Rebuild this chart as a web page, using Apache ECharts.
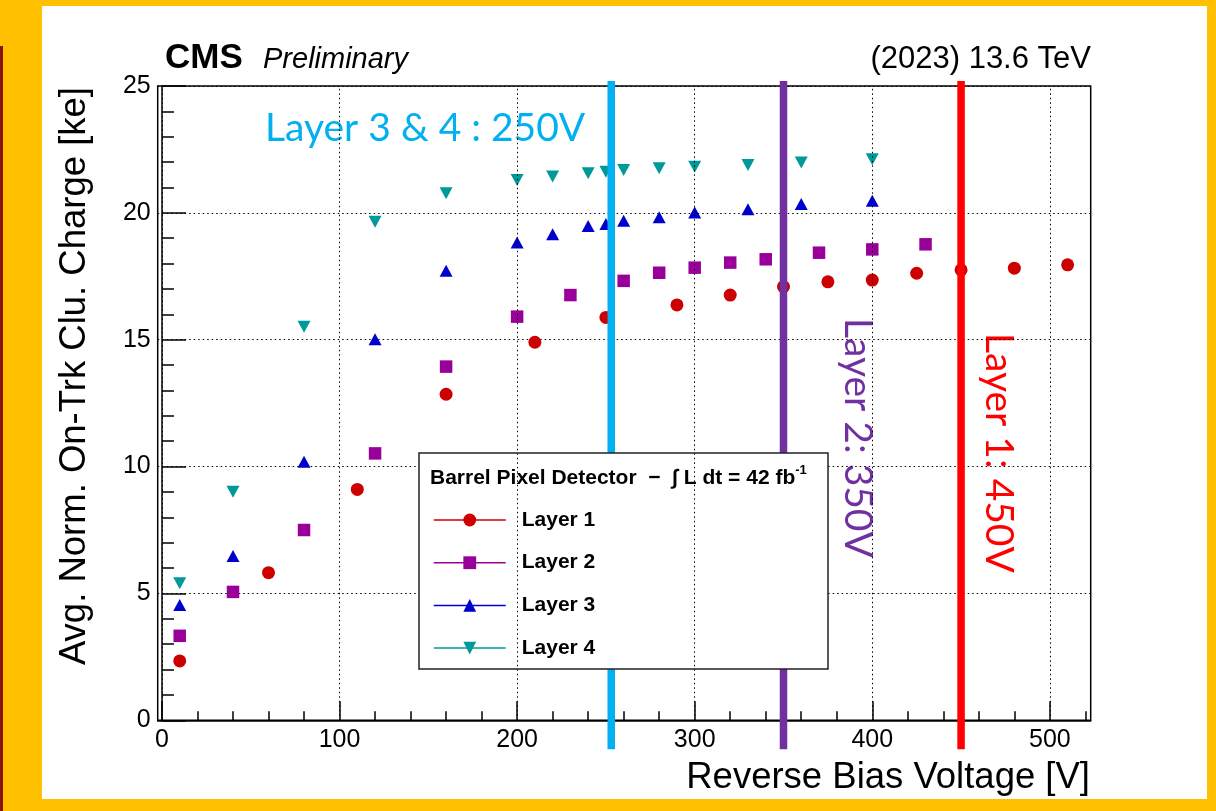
<!DOCTYPE html>
<html lang="en">
<head>
    <meta charset="UTF-8">
    <title>Bias scan - Barrel Pixel Detector</title>
    <script src="https://cdn.jsdelivr.net/npm/echarts@6/dist/echarts.min.js"></script>
    <style>
        html, body { margin: 0; padding: 0; }
        body { width: 1216px; height: 811px; background: #FFC000; position: relative; overflow: hidden; }
        #strip { position: absolute; left: 0; top: 46px; width: 3px; height: 765px; background: #8B1010; }
        #panel { position: absolute; left: 42px; top: 6px; width: 1165px; height: 793px; background: #fff; }
        #chart { position: absolute; left: 0; top: 0; width: 1216px; height: 811px; }
    </style>
</head>
<body>
<div id="strip"></div>
<div id="panel"></div>
<div id="chart"></div>
<script>
    // axis ticks
    const xMajor = [0, 100, 200, 300, 400, 500];
    const xMinor = [20, 40, 60, 80, 120, 140, 160, 180, 220, 240, 260, 280, 320, 340, 360, 380, 420, 440, 460, 480, 520];

    const voltL1 = [10, 60, 110, 160, 210, 250, 290, 320, 350, 375, 400, 425, 450, 480, 510];
    const chargeL1 = [2.34, 5.82, 9.1, 12.85, 14.9, 15.88, 16.37, 16.76, 17.09, 17.28, 17.35, 17.62, 17.75, 17.82, 17.95];

    const voltL2 = [10, 40, 80, 120, 160, 200, 230, 260, 280, 300, 320, 340, 370, 400, 430];
    const chargeL2 = [3.33, 5.06, 7.5, 10.52, 13.94, 15.91, 16.76, 17.32, 17.64, 17.84, 18.04, 18.17, 18.43, 18.56, 18.76];

    const voltL3 = [10, 40, 80, 120, 160, 200, 220, 240, 250, 260, 280, 300, 330, 360, 400];
    const chargeL3 = [4.54, 6.48, 10.19, 15.02, 17.72, 18.83, 19.16, 19.48, 19.56, 19.69, 19.83, 20.01, 20.14, 20.35, 20.48];

    const voltL4 = [10, 40, 80, 120, 160, 200, 220, 240, 250, 260, 280, 300, 330, 360, 400];
    const chargeL4 = [5.4, 9.01, 15.51, 19.65, 20.77, 21.3, 21.43, 21.56, 21.62, 21.69, 21.76, 21.82, 21.89, 21.98, 22.11];

    // operating voltage markers drawn on the slide
    const thresholdVolts = [253, 350, 450];
    const thresholdColors = ['#00B0F0', '#7030A0', '#FF0000'];

    const X_MIN = -2.4, X_MAX = 523;
    const Y_MIN = 0, Y_MAX = 25;

    const layers = [
        { name: 'Layer 1', v: voltL1, q: chargeL1, color: '#CC0000', symbol: 'circle', size: 13, rot: 0 },
        { name: 'Layer 2', v: voltL2, q: chargeL2, color: '#990099', symbol: 'rect', size: 12.5, rot: 0 },
        { name: 'Layer 3', v: voltL3, q: chargeL3, color: '#0000CC', symbol: 'triangle', size: [13, 12], rot: 0 },
        { name: 'Layer 4', v: voltL4, q: chargeL4, color: '#009999', symbol: 'triangle', size: [13, 12], rot: 180 }
    ];

    const ROOT_FONT = 'Liberation Sans, Arial, sans-serif';
    const PPT_FONT = 'Lato, Calibri, sans-serif';
    const black = { color: '#000', width: 1.5 };

    const layerSeries = layers.map(L => ({
        name: L.name,
        type: 'line',
        data: L.v.map((v, i) => [v, L.q[i]]),
        symbol: L.symbol,
        symbolSize: L.size,
        symbolRotate: L.rot,
        showAllSymbol: true,
        itemStyle: { color: L.color },
        lineStyle: { color: L.color, width: 1.5, opacity: 0 },
        emphasis: { disabled: true },
        silent: true,
        z: 2
    }));

    const chart = echarts.init(document.getElementById('chart'));

    const option = {
        animation: false,
        backgroundColor: 'transparent',
        grid: {
            left: 157.7, top: 86, right: 125.3, bottom: 90.7,
            show: true, borderColor: '#000', borderWidth: 1.5,
            backgroundColor: 'transparent', outerBoundsMode: 'none'
        },
        xAxis: [
            {
                type: 'value', min: X_MIN, max: X_MAX, position: 'bottom',
                axisLine: { show: true, lineStyle: black },
                axisTick: { show: true, inside: true, length: 19, customValues: xMajor, lineStyle: black },
                axisLabel: { show: true, customValues: xMajor, margin: 7, color: '#000', fontFamily: ROOT_FONT, fontSize: 25 },
                splitLine: { show: false }
            },
            {
                type: 'value', min: X_MIN, max: X_MAX, position: 'bottom',
                axisLine: { show: false },
                axisTick: { show: true, inside: true, length: 9, customValues: xMinor, lineStyle: black },
                axisLabel: { show: false },
                splitLine: { show: false }
            }
        ],
        yAxis: {
            type: 'value', min: Y_MIN, max: Y_MAX, interval: 5,
            axisLine: { show: true, lineStyle: black },
            axisTick: { show: true, inside: true, length: 24, lineStyle: black },
            minorTick: { show: true, splitNumber: 5, length: 12, lineStyle: black },
            axisLabel: { margin: 7, color: '#000', fontFamily: ROOT_FONT, fontSize: 25 },
            splitLine: { show: true, lineStyle: { type: [1.5, 3], color: '#000', width: 1 } }
        },
        legend: {
            orient: 'vertical', left: 433, top: 509, padding: 0,
            itemWidth: 72, itemHeight: 16, itemGap: 20.7,
            selectedMode: false, z: 5,
            textStyle: { fontFamily: ROOT_FONT, fontWeight: 'bold', fontSize: 21, lineHeight: 22, color: '#000', padding: [0, 0, 0, 11] },
            lineStyle: { width: 1.5, opacity: 1 },
            data: layers.map(L => L.name)
        },
        graphic: [
            { type: 'rect', z: 4, silent: true, shape: { x: 419, y: 453, width: 409, height: 216 },
              style: { fill: '#fff', stroke: '#222', lineWidth: 1.5 } },
            { type: 'text', z: 6, silent: true, x: 430, y: 478,
              style: {
                  text: '{h|Barrel Pixel Detector  \u2212  \u222B L dt = 42 fb}{s|-1}',
                  verticalAlign: 'middle',
                  rich: {
                      h: { fontFamily: ROOT_FONT, fontWeight: 'bold', fontSize: 21, fill: '#000' },
                      s: { fontFamily: ROOT_FONT, fontWeight: 'bold', fontSize: 13, fill: '#000', padding: [0, 0, 15, 0] }
                  }
              } },
            { type: 'text', silent: true, x: 165, y: 58,
              style: { text: 'CMS', fontFamily: ROOT_FONT, fontWeight: 'bold', fontSize: 35, fill: '#000', verticalAlign: 'middle' } },
            { type: 'text', silent: true, x: 263, y: 60,
              style: { text: 'Preliminary', fontFamily: ROOT_FONT, fontStyle: 'italic', fontSize: 29, fill: '#000', verticalAlign: 'middle' } },
            { type: 'text', silent: true, x: 1091, y: 59,
              style: { text: '(2023) 13.6 TeV', fontFamily: ROOT_FONT, fontSize: 31, fill: '#000', align: 'right', verticalAlign: 'middle' } },
            { type: 'text', silent: true, x: 1090, y: 778,
              style: { text: 'Reverse Bias Voltage [V]', fontFamily: ROOT_FONT, fontSize: 36.5, fill: '#000', align: 'right', verticalAlign: 'middle' } },
            { type: 'text', silent: true, x: 75, y: 87, rotation: Math.PI / 2,
              style: { text: 'Avg. Norm. On-Trk Clu. Charge [ke]', fontFamily: ROOT_FONT, fontSize: 36.5, fill: '#000', align: 'right', verticalAlign: 'middle' } },
            { type: 'text', silent: true, x: 265, y: 128,
              style: { text: 'Layer 3 & 4 : 250V', fontFamily: PPT_FONT, fontSize: 39, fill: thresholdColors[0], verticalAlign: 'middle' } },
            { type: 'text', silent: true, x: 858, y: 318, rotation: -Math.PI / 2,
              style: { text: 'Layer 2: 350V', fontFamily: PPT_FONT, fontSize: 39, fill: thresholdColors[1], verticalAlign: 'middle' } },
            { type: 'text', silent: true, x: 999, y: 333, rotation: -Math.PI / 2,
              style: { text: 'Layer 1: 450V', fontFamily: PPT_FONT, fontSize: 39, fill: thresholdColors[2], verticalAlign: 'middle' } }
        ],
        series: [
            {
                // dotted vertical grid at the major x ticks
                type: 'line', name: 'xgrid', data: [[X_MIN, Y_MIN]], symbol: 'none',
                lineStyle: { opacity: 0 }, silent: true, z: 1,
                markLine: {
                    silent: true, animation: false, symbol: ['none', 'none'],
                    label: { show: false }, emphasis: { disabled: true },
                    lineStyle: { type: [1.5, 3], color: '#000', width: 1 },
                    data: xMajor.map(v => ({ xAxis: v }))
                }
            },
            ...layerSeries,
            {
                type: 'custom', name: 'thresholds', coordinateSystem: 'cartesian2d',
                data: thresholdVolts.map(v => [v, Y_MAX]), clip: false, silent: true, z: 3,
                renderItem: (params, api) => {
                    const top = api.coord([api.value(0), Y_MAX]);
                    const bot = api.coord([api.value(0), Y_MIN]);
                    return {
                        type: 'line',
                        shape: { x1: top[0], y1: top[1] - 5, x2: bot[0], y2: bot[1] + 29 },
                        style: { stroke: thresholdColors[params.dataIndex], lineWidth: 7.5 }
                    };
                }
            }
        ]
    };

    chart.setOption(option);
</script>
</body>
</html>
